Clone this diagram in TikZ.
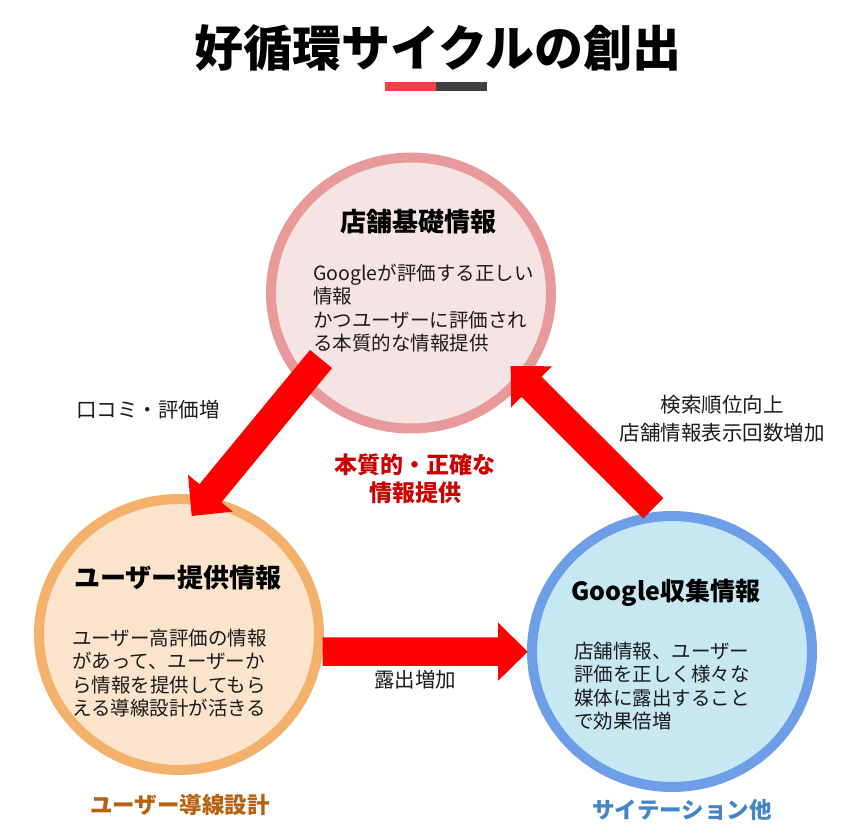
\documentclass[tikz,border=0pt]{standalone}
\usepackage{fontspec}
\setmainfont{Noto Sans CJK JP}
\usetikzlibrary{calc,shapes.geometric}
\definecolor{pinkring}{RGB}{232,154,154}
\definecolor{pinkfill}{RGB}{246,228,228}
\definecolor{orangering}{RGB}{244,177,107}
\definecolor{orangefill}{RGB}{251,228,203}
\definecolor{bluering}{RGB}{109,158,232}
\definecolor{bluefill}{RGB}{199,232,243}
\definecolor{barred}{RGB}{255,59,69}
\definecolor{bardark}{RGB}{64,64,64}
\definecolor{textred}{RGB}{204,0,0}
\definecolor{textbrown}{RGB}{184,98,16}
\definecolor{textblue}{RGB}{68,133,200}
\definecolor{textgray}{RGB}{26,26,26}
\newcommand{\bigarrow}[2]{%
\coordinate (#1#2) at ($(#2)!29.5pt!(#1)$);
\fill[red] ($(#1)!14.25pt!90:(#2)$) -- ($(#1#2)!14.25pt!90:(#2)$) -- ($(#1#2)!29pt!90:(#2)$) -- (#2) -- ($(#1#2)!29pt!-90:(#2)$) -- ($(#1#2)!14.25pt!-90:(#2)$) -- ($(#1)!14.25pt!-90:(#2)$) -- cycle;
}
\begin{document}
\begin{tikzpicture}[x=1pt,y=-1pt,
ring/.style={ellipse,line width=10pt,inner sep=0pt,minimum width=280pt,minimum height=271pt},
head/.style={font=\bfseries\fontsize{26}{30}\selectfont,inner sep=0pt},
body/.style={font=\fontsize{19.5}{23.5}\selectfont,text=textgray,align=left,anchor=west,inner sep=0pt},
label/.style={font=\fontsize{20.5}{28}\selectfont,text=textgray,align=center,inner sep=0pt},
tag/.style={font=\bfseries\fontsize{22.5}{28}\selectfont,align=center,inner sep=0pt}]
\fill[white] (0,0) rectangle (863,840);
\useasboundingbox (0,0) rectangle (863,840);
\node[font=\bfseries\fontsize{49}{54}\selectfont,inner sep=0pt] (title) at (438,48) {好循環サイクルの創出};
\fill[barred] (385,82) rectangle (436,91);
\fill[bardark] (436,82) rectangle (487,91);
% circles
\node[ring,draw=pinkring,fill=pinkfill] (shop) at (411,293) {};
\node[ring,draw=orangering,fill=orangefill] (user) at (179,634.5) {};
\node[ring,draw=bluering,fill=bluefill] (google) at (672,651.5) {};
\node[head] (shophead) at (418,222) {店舗基礎情報};
\node[body] (shopbody) at (313,308) {Googleが評価する正しい\\情報\\かつユーザーに評価され\\る本質的な情報提供};
\node[head] (userhead) at (178,578) {ユーザー提供情報};
\node[body] (userbody) at (72,673) {ユーザー高評価の情報\\があって、ユーザーか\\ら情報を提供してもら\\える導線設計が活きる};
\node[head,font=\bfseries\fontsize{25}{30}\selectfont] (googlehead) at (666,593) {Google収集情報};
\node[body] (googlebody) at (574,686) {店舗情報、ユーザー\\評価を正しく様々な\\媒体に露出すること\\で効果倍増};
% arrows
\coordinate (1a) at (321,359);
\coordinate (1b) at (191.7,516);
\coordinate (2a) at (322.7,651.7);
\coordinate (2b) at (527.7,651.7);
\coordinate (3a) at (653.3,508.3);
\coordinate (3b) at (510.7,366);
\bigarrow{1a}{1b}
\bigarrow{2a}{2b}
\bigarrow{3a}{3b}
\node[label] (review) at (148,410) {口コミ・評価増};
\node[label] (search) at (722,419) {検索順位向上\\店舗情報表示回数増加};
\node[label] (expose) at (415,680) {露出増加};
\node[tag,text=textred,font=\bfseries\fontsize{23}{28}\selectfont] (core) at (415,479) {本質的・正確な\\情報提供};
\node[tag,text=textbrown] (usertag) at (180,805) {ユーザー導線設計};
\node[tag,text=textblue] (googletag) at (682,810) {サイテーション他};
\end{tikzpicture}
\end{document}
